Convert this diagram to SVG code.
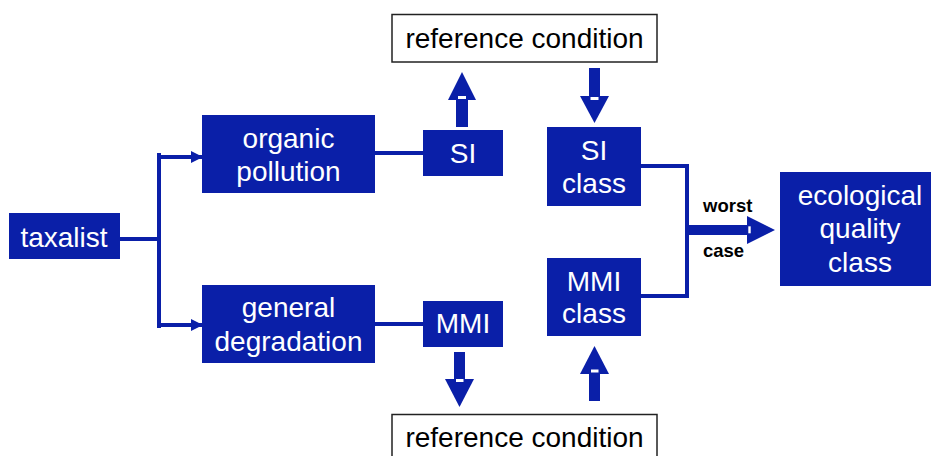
<svg xmlns="http://www.w3.org/2000/svg" width="931" height="456" viewBox="0 0 931 456">
<defs>
<style>
.box{fill:#0a1fa8}
.ref{fill:#fff;stroke:#222;stroke-width:1.5}
.t{font-family:"Liberation Sans",Arial,sans-serif;font-size:28px;fill:#fff;text-anchor:middle}
.rt{font-family:"Liberation Sans",Arial,sans-serif;font-size:28px;fill:#000;text-anchor:middle}
.lbl{font-family:"Liberation Sans",Arial,sans-serif;font-size:18.5px;font-weight:bold;fill:#000}
.ln{stroke:#0a1fa8;stroke-width:4;fill:none}
.big{fill:#0a1fa8}
.gap{fill:#fff}
</style>
<marker id="ah" viewBox="0 0 10 10" refX="10" refY="5" markerWidth="3" markerHeight="3" orient="auto" markerUnits="strokeWidth">
<path d="M0,0 L10,5 L0,10 Z" fill="#0a1fa8"/>
</marker>
</defs>

<g id="connectors">
<line class="ln" x1="120" y1="239" x2="161" y2="239"/>
<line class="ln" x1="159" y1="153" x2="159" y2="328"/>
<line class="ln" x1="159" y1="157" x2="203" y2="157" marker-end="url(#ah)"/>
<line class="ln" x1="159" y1="325" x2="203" y2="325" marker-end="url(#ah)"/>
<line class="ln" x1="375" y1="153" x2="423" y2="153"/>
<line class="ln" x1="375" y1="324" x2="423" y2="324"/>
<line class="ln" x1="641" y1="166" x2="689" y2="166"/>
<line class="ln" x1="641" y1="296" x2="689" y2="296"/>
<line class="ln" x1="687" y1="164" x2="687" y2="298"/>
<!-- SI up to reference -->
<rect class="big" x="456" y="99" width="12" height="28"/>
<polygon class="big" points="448,100 476,100 462,72"/>
<rect class="gap" x="458" y="96" width="8" height="3"/>
<!-- reference down to SI class -->
<rect class="big" x="589" y="68" width="11" height="29"/>
<polygon class="big" points="580,96 609,96 594.5,123"/>
<rect class="gap" x="590.5" y="97" width="8" height="3"/>
<!-- MMI down to reference -->
<rect class="big" x="454" y="352" width="11" height="28"/>
<polygon class="big" points="445,379 474,379 459.5,407"/>
<rect class="gap" x="456" y="379" width="7.5" height="3"/>
<!-- reference up to MMI class -->
<rect class="big" x="589" y="373" width="11" height="28"/>
<polygon class="big" points="580,374 609,374 594.5,346"/>
<rect class="gap" x="591" y="369.5" width="7.5" height="3"/>
<!-- worst case -->
<rect class="big" x="687" y="225" width="61" height="10"/>
<polygon class="big" points="747,216 747,244 775,230"/>
<rect class="gap" x="748.3" y="226.3" width="2.4" height="7"/>
<text class="lbl" x="703" y="212">worst</text>
<text class="lbl" x="703" y="257">case</text>
</g>

<g id="taxalist">
<rect class="box" x="9" y="213" width="111" height="46"/>
<text class="t" x="64" y="247">taxalist</text>
</g>

<g id="organic-pollution">
<rect class="box" x="202" y="115" width="173" height="78"/>
<text class="t" x="288.5" y="148">organic</text>
<text class="t" x="288.5" y="181">pollution</text>
</g>

<g id="general-degradation">
<rect class="box" x="202" y="285" width="173" height="78"/>
<text class="t" x="288.5" y="317">general</text>
<text class="t" x="288.5" y="351">degradation</text>
</g>

<g id="si">
<rect class="box" x="423" y="130" width="80" height="46"/>
<text class="t" x="463" y="163">SI</text>
</g>

<g id="mmi">
<rect class="box" x="423" y="301" width="80" height="46"/>
<text class="t" x="463" y="333">MMI</text>
</g>

<g id="reference-top">
<rect class="ref" x="392" y="14.5" width="265" height="47.5"/>
<text class="rt" x="524.5" y="48">reference condition</text>
</g>

<g id="reference-bottom">
<rect class="ref" x="392" y="414.5" width="265" height="60"/>
<text class="rt" x="524.5" y="447">reference condition</text>
</g>

<g id="si-class">
<rect class="box" x="547" y="127" width="94" height="79"/>
<text class="t" x="594" y="160">SI</text>
<text class="t" x="594" y="193">class</text>
</g>

<g id="mmi-class">
<rect class="box" x="547" y="258" width="94" height="78"/>
<text class="t" x="594" y="291">MMI</text>
<text class="t" x="594" y="323">class</text>
</g>

<g id="ecological-quality-class">
<rect class="box" x="780" y="172" width="151" height="114"/>
<text class="t" x="860" y="205">ecological</text>
<text class="t" x="860" y="238">quality</text>
<text class="t" x="860" y="272">class</text>
</g>
</svg>
